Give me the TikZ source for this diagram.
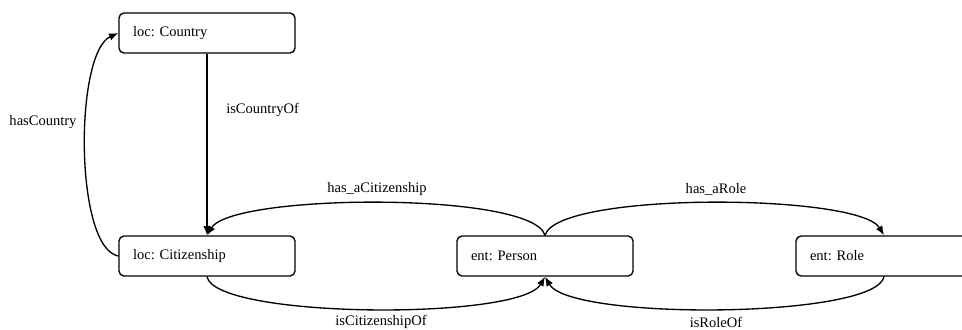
\documentclass[tikz,border=0pt]{standalone}
\usepackage{fontspec}
\setmainfont{Liberation Serif}
\usetikzlibrary{arrows.meta,calc}
\frenchspacing

\begin{document}
\begin{tikzpicture}[x=0.75pt,y=-0.75pt,
  font=\fontsize{10.9}{13}\selectfont,
  entity/.style={draw,line width=1pt,rounded corners=3.75pt,
    text width=111pt,inner xsep=10.5pt,inner ysep=0pt,
    minimum height=30pt,align=left},
  edge/.style={line width=1pt,-{Latex[length=7pt,width=5.5pt]}},
  lbl/.style={inner sep=0pt}]
  \clip (0,0) rectangle (962,329);
  \useasboundingbox (0,0) rectangle (962,329);

  % classes
  \node[entity] (country) at (207,33) {loc: Country};
  \node[entity] (citizenship) at (207,256) {loc: Citizenship};
  \node[entity] (person) at (545,256) {ent: Person};
  \node[entity] (role) at (884,256) {ent: Role};

  % properties
  \draw[edge] (country.south) -- (citizenship.north);
  \draw[edge] (citizenship.west)
    .. controls ($(citizenship.west)+(-44,-8)$) and ($(country.west)+(-44,20)$) .. (country.west);
  \draw[edge] (person.north)
    .. controls ($(person.north)+(-12,-44)$) and ($(citizenship.north)+(25,-42)$) .. (citizenship.north);
  \draw[edge] (person.north)
    .. controls ($(person.north)+(12,-44)$) and ($(role.north)+(-25,-42)$) .. (role.north);
  \draw[edge] (citizenship.south)
    .. controls ($(citizenship.south)+(8,42)$) and ($(person.south)+(-25,44)$) .. (person.south);
  \draw[edge] (role.south)
    .. controls ($(role.south)+(-8,42)$) and ($(person.south)+(25,44)$) .. (person.south);

  % property names
  \node[lbl] (lcountryof) [anchor=west] at (226,110) {isCountryOf};
  \node[lbl] (lhascountry) at (43,122) {hasCountry};
  \node[lbl] (lhascit) at (377,189) {has\_aCitizenship};
  \node[lbl] (lhasrole) at (716,189) {has\_aRole};
  \node[lbl] (lcitof) at (381,322) {isCitizenshipOf};
  \node[lbl] (lroleof) at (716,322) {isRoleOf};
\end{tikzpicture}
\end{document}
